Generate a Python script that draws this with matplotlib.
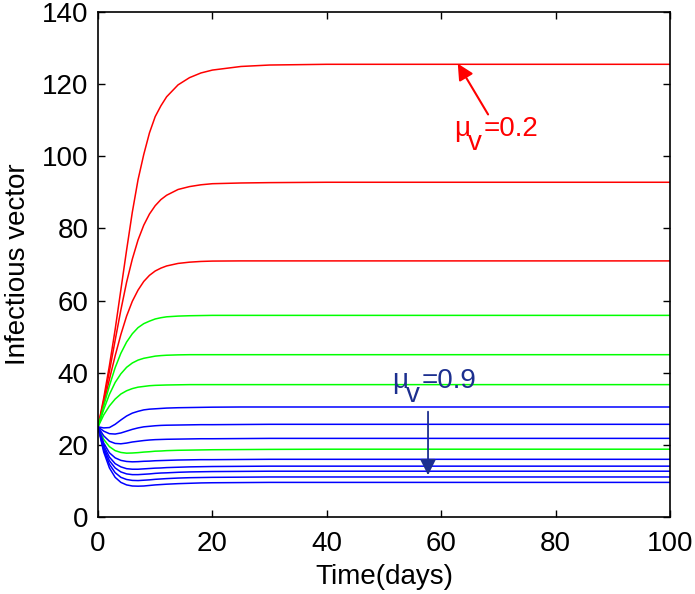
import numpy as np
import matplotlib
matplotlib.use("Agg")
import matplotlib.pyplot as plt
from matplotlib.transforms import offset_copy

plt.rcParams['font.family'] = ['Liberation Sans', 'DejaVu Sans']

t = [0, 1, 2, 3, 4, 5, 6, 7, 8, 9, 10, 11, 12, 14, 16, 18, 20, 25, 30, 40, 100]

# red curves (small mu_v)
red1 = [25, 33, 42, 52, 63, 74, 84.5, 93.5, 100.5, 106.5, 111, 114, 116.5, 119.8, 121.8, 123.1, 123.9, 124.9, 125.3, 125.5, 125.5]
red2 = [25, 32.3, 40.4, 49, 57.4, 65.1, 71.5, 76.8, 80.9, 84.0, 86.3, 88.0, 89.2, 90.8, 91.6, 92.1, 92.4, 92.6, 92.7, 92.8, 92.8]
red3 = [25, 31.4, 38.2, 44.7, 50.6, 55.7, 59.8, 62.9, 65.3, 67.0, 68.2, 69.0, 69.6, 70.3, 70.65, 70.85, 70.95, 71.0, 71.0, 71.0, 71.0]

# green curves
green1 = [25, 30.8, 36.4, 41.4, 45.4, 48.5, 50.8, 52.5, 53.6, 54.3, 54.9, 55.25, 55.5, 55.7, 55.8, 55.85, 55.9, 55.9, 55.9, 55.9, 55.9]
green2 = [25, 29.8, 34.0, 37.3, 39.7, 41.5, 42.7, 43.5, 44.0, 44.3, 44.6, 44.75, 44.85, 44.95, 45.0, 45.0, 45.0, 45.0, 45.0, 45.0, 45.0]
green3 = [25, 28.3, 30.8, 32.7, 34.1, 35.0, 35.6, 36.0, 36.2, 36.4, 36.5, 36.55, 36.6, 36.65, 36.7, 36.7, 36.7, 36.7, 36.7, 36.7, 36.7]
green4 = [25, 21.5, 19.5, 18.4, 17.9, 17.7, 17.75, 17.85, 18.0, 18.1, 18.25, 18.3, 18.4, 18.5, 18.55, 18.6, 18.65, 18.7, 18.75, 18.8, 18.8]

# blue curves (large mu_v)
blue1 = [25, 24.7, 24.8, 25.7, 26.9, 28.0, 28.8, 29.3, 29.7, 29.9, 30.0, 30.1, 30.2, 30.3, 30.35, 30.4, 30.45, 30.5, 30.5, 30.5, 30.5]
blue2 = [25, 23.8, 23.1, 23.0, 23.3, 23.8, 24.3, 24.7, 25.0, 25.15, 25.3, 25.4, 25.45, 25.5, 25.55, 25.6, 25.6, 25.65, 25.7, 25.7, 25.7]
blue3 = [25, 22.5, 21.0, 20.4, 20.3, 20.5, 20.8, 21.0, 21.2, 21.35, 21.45, 21.5, 21.55, 21.6, 21.65, 21.7, 21.7, 21.75, 21.8, 21.8, 21.8]
blue4 = [25, 20.5, 17.8, 16.4, 15.7, 15.4, 15.3, 15.35, 15.45, 15.5, 15.6, 15.65, 15.7, 15.8, 15.85, 15.9, 15.9, 15.95, 16.0, 16.0, 16.0]
blue5 = [25, 19.8, 16.6, 14.8, 13.9, 13.4, 13.25, 13.25, 13.35, 13.45, 13.55, 13.6, 13.7, 13.8, 13.9, 13.95, 14.0, 14.05, 14.1, 14.1, 14.1]
blue6 = [25, 19.2, 15.6, 13.6, 12.5, 11.95, 11.75, 11.75, 11.85, 11.95, 12.1, 12.2, 12.25, 12.4, 12.5, 12.55, 12.6, 12.65, 12.7, 12.7, 12.7]
blue7 = [25, 18.6, 14.6, 12.3, 11.0, 10.4, 10.15, 10.1, 10.2, 10.3, 10.45, 10.55, 10.65, 10.8, 10.9, 10.95, 11.0, 11.05, 11.1, 11.1, 11.1]
blue8 = [25, 18.0, 13.6, 11.0, 9.6, 8.9, 8.6, 8.55, 8.6, 8.75, 8.9, 9.0, 9.1, 9.25, 9.35, 9.45, 9.5, 9.55, 9.6, 9.6, 9.6]

reds = [red1, red2, red3]
greens = [green1, green2, green3, green4]
blues = [blue1, blue2, blue3, blue4, blue5, blue6, blue7, blue8]

fig = plt.figure(figsize=(6.95, 5.94), dpi=100)
ax = fig.add_axes([0.141, 0.1296, 0.823, 0.8502])

lw = 1.1
for y in reds:
    ax.plot(t, y, color='#ff0000', lw=lw)
for y in greens:
    ax.plot(t, y, color='#00ff00', lw=lw)
for y in blues:
    ax.plot(t, y, color='#0000ff', lw=lw)

ax.set_xlim(0, 100)
ax.set_ylim(0, 140)
ax.set_xticks(range(0, 101, 20))
ax.set_yticks(range(0, 141, 20))
ax.tick_params(direction='in', top=True, right=True, length=5, width=1, labelsize=20)
ax.tick_params(axis='x', pad=10)
ax.tick_params(axis='y', pad=7)
for s in ax.spines.values():
    s.set_linewidth(1.2)

ax.set_xlabel('Time(days)', fontsize=20, labelpad=5)
ax.set_ylabel('Infectious vector', fontsize=20, labelpad=8)


def mu_label(x, y, value, color):
    # mu with a large, lowered subscript v, as in the original
    ax.text(x, y, 'μ', color=color, fontsize=20, ha='left', va='baseline')
    tr = offset_copy(ax.transData, fig=fig, x=10, y=-10, units='points')
    ax.text(x, y, 'v', color=color, fontsize=20, ha='left', va='baseline', transform=tr)
    tr = offset_copy(ax.transData, fig=fig, x=21, y=0, units='points')
    ax.text(x, y, '=' + value, color=color, fontsize=20, ha='left', va='baseline', transform=tr)


# mu_v = 0.2 (red)
mu_label(62.3, 105.5, '0.2', '#ff0000')
ax.annotate('', xy=(62.9, 125.7), xytext=(68.2, 111.6),
            arrowprops=dict(arrowstyle='-|>', color='#ff0000', lw=1.5,
                            mutation_scale=24, shrinkA=0, shrinkB=0))

# mu_v = 0.9 (navy)
navy = '#1c2f8f'
mu_label(51.4, 35.8, '0.9', navy)
ax.annotate('', xy=(57.7, 11.6), xytext=(57.7, 29.2),
            arrowprops=dict(arrowstyle='-|>', color=navy, lw=1.3,
                            mutation_scale=24, shrinkA=0, shrinkB=0))

fig.savefig('out.png', dpi=100)
